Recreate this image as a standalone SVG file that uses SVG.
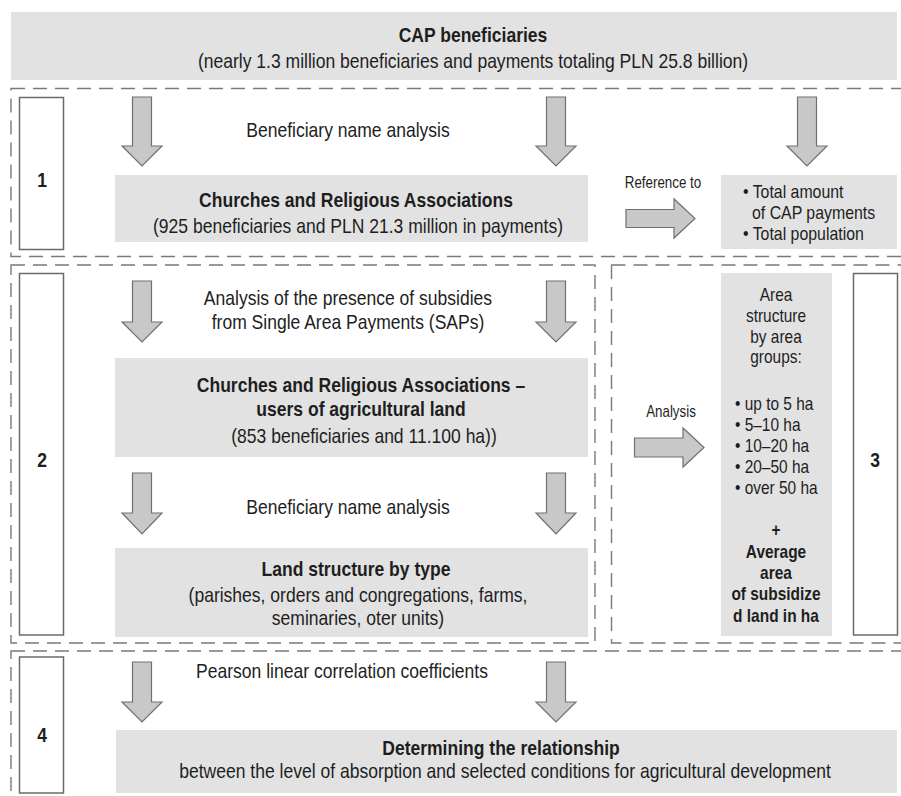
<svg xmlns="http://www.w3.org/2000/svg" width="901" height="796" viewBox="0 0 901 796">
<style>
text{font-family:"Liberation Sans",Arial,sans-serif;fill:#1e1e1e;font-size:21px}
.b{font-weight:bold}
.m{text-anchor:middle}
.s{font-size:16px}
.r{font-size:19px}
.a{font-size:18.5px}
.box{fill:#e2e2e2}
.dash{fill:none;stroke:#7a7a7a;stroke-width:1.4;stroke-dasharray:14 8}
.lab{fill:#fff;stroke:#6a6a6a;stroke-width:1.5}
.arr{fill:#c8c8c8;stroke:#707070;stroke-width:1.2;stroke-linejoin:miter}
</style>
<rect width="901" height="796" fill="#fff"/>
<g id="sections">
<rect class="dash" x="11" y="88.5" width="900" height="168"/>
<rect class="dash" x="11" y="265" width="584" height="378"/>
<rect class="dash" x="611.5" y="265" width="300" height="378"/>
<rect class="dash" x="11" y="651" width="900" height="160"/>
</g>
<g id="cap">
<rect class="box" x="11" y="12" width="886" height="68"/>
<text class="b m" transform="translate(473 42) scale(0.835 1)">CAP beneficiaries</text>
<text class="m" transform="translate(473 68) scale(0.835 1)">(nearly 1.3 million beneficiaries and payments totaling PLN 25.8 billion)</text>
</g>
<g id="label1">
<rect class="lab" x="19.5" y="97.5" width="44" height="152"/>
<text class="b m" transform="translate(42 187) scale(0.835 1)">1</text>
</g>
<g id="churches1">
<rect class="box" x="115" y="175" width="473" height="67"/>
<text class="b m" transform="translate(356 207) scale(0.835 1)">Churches and Religious Associations</text>
<text class="m" transform="translate(358 233) scale(0.835 1)">(925 beneficiaries and PLN 21.3 million in payments)</text>
</g>
<g id="totals">
<rect class="box" x="721" y="175" width="176" height="74"/>
<text class="r" transform="translate(743 198) scale(0.835 1)">• Total amount</text>
<text class="r" transform="translate(752 219) scale(0.835 1)">of CAP payments</text>
<text class="r" transform="translate(743 240) scale(0.835 1)">• Total population</text>
</g>
<g id="label2">
<rect class="lab" x="19.5" y="273.5" width="44" height="361.5"/>
<text class="b m" transform="translate(42 467) scale(0.835 1)">2</text>
</g>
<g id="churches2">
<rect class="box" x="115" y="358" width="473" height="99"/>
<text class="b m" transform="translate(361 392) scale(0.835 1)">Churches and Religious Associations –</text>
<text class="b m" transform="translate(361 416) scale(0.835 1)">users of agricultural land</text>
<text class="m" transform="translate(364 443) scale(0.835 1)">(853 beneficiaries and 11.100 ha))</text>
</g>
<g id="landtype">
<rect class="box" x="115" y="548" width="473" height="89"/>
<text class="b m" transform="translate(356 576) scale(0.835 1)">Land structure by type</text>
<text class="m" transform="translate(358 602) scale(0.835 1)">(parishes, orders and congregations, farms,</text>
<text class="m" transform="translate(358 625) scale(0.835 1)">seminaries, oter units)</text>
</g>
<g id="area">
<rect class="box" x="721" y="273" width="111" height="363"/>
<text class="a m" transform="translate(776 301) scale(0.835 1)">Area</text>
<text class="a m" transform="translate(776 322) scale(0.835 1)">structure</text>
<text class="a m" transform="translate(776 343) scale(0.835 1)">by area</text>
<text class="a m" transform="translate(776 363) scale(0.835 1)">groups:</text>
<text class="a" transform="translate(735 410) scale(0.835 1)">• up to 5 ha</text>
<text class="a" transform="translate(735 431) scale(0.835 1)">• 5–10 ha</text>
<text class="a" transform="translate(735 452) scale(0.835 1)">• 10–20 ha</text>
<text class="a" transform="translate(735 473) scale(0.835 1)">• 20–50 ha</text>
<text class="a" transform="translate(735 494) scale(0.835 1)">• over 50 ha</text>
<text class="a b m" transform="translate(776 536) scale(0.835 1)">+</text>
<text class="a b m" transform="translate(776 558) scale(0.835 1)">Average</text>
<text class="a b m" transform="translate(776 579) scale(0.835 1)">area</text>
<text class="a b m" transform="translate(776 600) scale(0.835 1)">of subsidize</text>
<text class="a b m" transform="translate(776 622) scale(0.835 1)">d land in ha</text>
</g>
<g id="label3">
<rect class="lab" x="853.5" y="273.5" width="44" height="361.5"/>
<text class="b m" transform="translate(875 467) scale(0.835 1)">3</text>
</g>
<g id="label4">
<rect class="lab" x="19.5" y="657" width="44" height="136"/>
<text class="b m" transform="translate(42 742) scale(0.835 1)">4</text>
</g>
<g id="relationship">
<rect class="box" x="116" y="730" width="781" height="63"/>
<text class="b m" transform="translate(501 755) scale(0.835 1)">Determining the relationship</text>
<text class="m" transform="translate(505 778) scale(0.835 1)">between the level of absorption and selected conditions for agricultural development</text>
</g>
<g id="connectors">
<path class="arr" d="M132.5,97 H151.5 V146 H162 L142,166 L122,146 H132.5 Z"/>
<path class="arr" d="M546.5,97 H565.5 V146 H576 L556,166 L536,146 H546.5 Z"/>
<path class="arr" d="M797.5,97 H816.5 V146 H827 L807,166 L787,146 H797.5 Z"/>
<path class="arr" d="M132.5,281 H151.5 V322 H162 L142,342 L122,322 H132.5 Z"/>
<path class="arr" d="M546.5,281 H565.5 V322 H576 L556,342 L536,322 H546.5 Z"/>
<path class="arr" d="M132.5,473 H151.5 V513 H162 L142,534 L122,513 H132.5 Z"/>
<path class="arr" d="M546.5,473 H565.5 V513 H576 L556,534 L536,513 H546.5 Z"/>
<path class="arr" d="M132.5,662 H151.5 V702 H162 L142,722 L122,702 H132.5 Z"/>
<path class="arr" d="M546.5,662 H565.5 V702 H576 L556,722 L536,702 H546.5 Z"/>
<path class="arr" d="M626,209.5 H674 V199 L695,218.5 L674,238 V227.5 H626 Z"/>
<path class="arr" d="M634.5,438 H683 V428 L704,447.5 L683,467 V457 H634.5 Z"/>
<text class="m" transform="translate(348 137) scale(0.835 1)">Beneficiary name analysis</text>
<text class="s m" transform="translate(663 188) scale(0.835 1)">Reference to</text>
<text class="m" transform="translate(348 305) scale(0.835 1)">Analysis of the presence of subsidies</text>
<text class="m" transform="translate(348 329) scale(0.835 1)">from Single Area Payments (SAPs)</text>
<text class="s m" transform="translate(671 417) scale(0.835 1)">Analysis</text>
<text class="m" transform="translate(348 514) scale(0.835 1)">Beneficiary name analysis</text>
<text class="m" transform="translate(342 678) scale(0.835 1)">Pearson linear correlation coefficients</text>
</g>
</svg>
